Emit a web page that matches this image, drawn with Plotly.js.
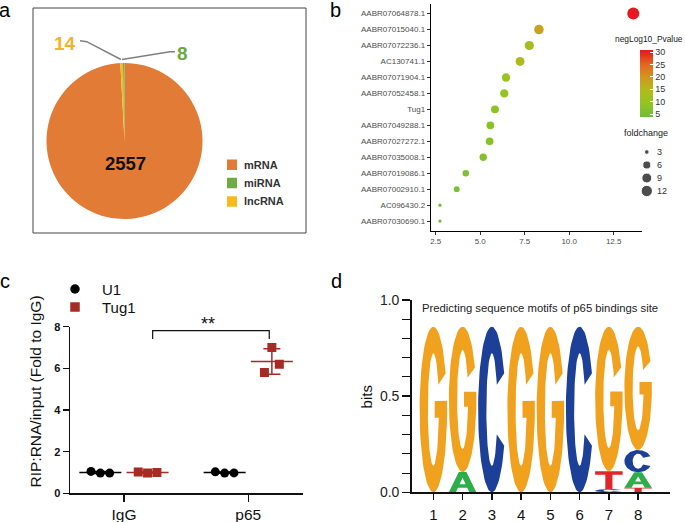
<!DOCTYPE html>
<html><head><meta charset="utf-8">
<script src="https://cdn.plot.ly/plotly-3.0.1.min.js"></script>
<style>html,body{margin:0;padding:0;background:#fff;}#chart{width:685px;height:522px;}</style>
</head><body><div id="chart"></div>
<script>
// ---------- Panel a: RNA types ----------
const rnaTypes = ['mRNA', 'miRNA', 'lncRNA'];
const rnaCounts = [2557, 8, 14];
// ---------- Panel b: bubble plot ----------
const genes = ['AABR07064878.1','AABR07015040.1','AABR07072236.1','AC130741.1','AABR07071904.1','AABR07052458.1','Tug1','AABR07049288.1','AABR07027272.1','AABR07035008.1','AABR07019086.1','AABR07002910.1','AC096430.2','AABR07030690.1'];
const foldChange = [13.60, 8.30, 7.76, 7.24, 6.45, 6.35, 5.83, 5.57, 5.53, 5.17, 4.19, 3.68, 2.74, 2.74];
const negLog10P = [30.9, 18.0, 12.5, 13.5, 10.0, 9.5, 8.5, 7.5, 7.5, 7.0, 6.0, 5.5, 4.2, 3.8];
const xTicksB = [2.5, 5.0, 7.5, 10.0, 12.5];
const pTicks = [5, 10, 15, 20, 25, 30];
const sizeLegendValues = [3, 6, 9, 12];
// ---------- Panel c: RIP ----------
const ripGroups = ['IgG', 'p65'];
const seriesNames = ['U1', 'Tug1'];
const U1_IgG = [1.05, 0.97, 0.97];
const U1_p65 = [1.03, 0.97, 0.98];
const Tug1_IgG = [1.02, 0.97, 1.00];
const Tug1_p65 = [7.0, 6.2, 5.8];
const yTicksC = [0, 2, 4, 6, 8];
const sigLabel = '**';
// ---------- Panel d: sequence logo ----------
const motifPositions = [1, 2, 3, 4, 5, 6, 7, 8];
const bitsA = [0, 0.105, 0, 0, 0, 0, 0, 0.080];
const bitsC = [0, 0, 0.861, 0, 0, 0.861, 0.016, 0.116];
const bitsG = [0.861, 0.756, 0, 0.861, 0.861, 0, 0.751, 0.641];
const bitsT = [0, 0, 0, 0, 0, 0, 0.094, 0.024];
const yTicksD = [0, 0.5, 1.0];

// ---------- helpers / style ----------
const W = 685, H = 522;
const px = x => x / W, py = y => 1 - y / H;
const FONT = 'Liberation Sans, Arial, sans-serif';
const rnaColors = ['#E27B36', '#6FAC46', '#F6BA1C'];
const tugColor = '#A62B24';

const traces = [];
const annotations = [];
const shapes = [];
function ann(text, x, y, font, extra) {
  annotations.push(Object.assign({text: text, xref: 'paper', yref: 'paper', x: px(x), y: py(y),
    showarrow: false, xanchor: 'center', yanchor: 'middle', font: Object.assign({family: FONT, color: '#000'}, font)}, extra || {}));
}

// ===== Panel a =====
const pieOrder = [0, 2, 1];
traces.push({type: 'pie', labels: pieOrder.map(i => rnaTypes[i]), values: pieOrder.map(i => rnaCounts[i]),
  sort: false, direction: 'clockwise', rotation: 0,
  marker: {colors: pieOrder.map(i => rnaColors[i]), line: {width: 0}},
  textinfo: 'none', hoverinfo: 'skip', showlegend: false,
  domain: {x: [px(46.5), px(202.5)], y: [py(219), py(63)]}});
shapes.push({type: 'rect', xref: 'paper', yref: 'paper', x0: px(33), x1: px(306), y0: py(233), y1: py(8), line: {color: '#444', width: 1}});
shapes.push({type: 'path', xref: 'paper', yref: 'paper', path: `M ${px(80)},${py(40.7)} L ${px(86.7)},${py(41.7)} L ${px(121)},${py(59.5)}`, line: {color: '#808080', width: 1.5}});
shapes.push({type: 'path', xref: 'paper', yref: 'paper', path: `M ${px(122)},${py(59.5)} L ${px(170)},${py(51.7)} L ${px(175)},${py(51.7)}`, line: {color: '#808080', width: 1.5}});
ann(String(rnaCounts[2]), 65, 43, {size: 19, weight: 'bold', color: '#F4B323'});
ann(String(rnaCounts[1]), 182.7, 53.5, {size: 19, weight: 'bold', color: '#6AAA3F'});
ann(String(rnaCounts[0]), 126, 163.5, {size: 18.5, weight: 'bold', color: '#111'});
// pie legend
traces.push({type: 'scatter', mode: 'markers', x: rnaTypes.map(() => 0.5), y: rnaTypes.map((_, i) => i),
  xaxis: 'x5', yaxis: 'y5', marker: {symbol: 'square', size: 10.5, color: rnaColors}, hoverinfo: 'skip', showlegend: false});
rnaTypes.forEach((t, i) => ann(t, 242, 164.7 + i * 18.3, {size: 11, weight: 'bold', color: '#333'}, {xanchor: 'left'}));

// ===== Panel b =====
const fcMin = Math.min(...foldChange), fcMax = Math.max(...foldChange);
const dotSize = v => 3.3 + 8.7 * Math.sqrt(Math.max(0, v - fcMin) / (fcMax - fcMin));
const pMin = Math.min(...negLog10P), pMax = Math.max(...negLog10P);
const colorscale = [[0, '#6DBE3A'], [0.22, '#98C41F'], [0.42, '#B6B71C'], [0.6, '#D3961E'], [0.8, '#E2621F'], [1, '#E8161F']];
traces.push({type: 'scatter', mode: 'markers', x: foldChange, y: genes, xaxis: 'x', yaxis: 'y',
  marker: {size: foldChange.map(dotSize), color: negLog10P, cmin: pMin, cmax: pMax, colorscale: colorscale,
    line: {width: 0}, opacity: 1,
    colorbar: {x: px(640), xanchor: 'left', xpad: 0, y: py(83.5), yanchor: 'middle', ypad: 0,
      len: 67 / H, lenmode: 'fraction', thickness: 13, thicknessmode: 'pixels',
      tickvals: pTicks, ticks: 'inside', ticklen: 3, tickcolor: '#fff', tickwidth: 1,
      tickfont: {size: 9, color: '#333', family: FONT}, outlinewidth: 0, title: {text: ''}}},
  hoverinfo: 'skip', showlegend: false});
ann('negLog10_Pvalue', 684, 38.7, {size: 8.4, color: '#222'}, {xanchor: 'right', borderpad: 0});
ann('foldchange', 646, 133, {size: 9, color: '#222'});
traces.push({type: 'scatter', mode: 'markers', x: sizeLegendValues.map(() => 0.5), y: sizeLegendValues.map((_, i) => i),
  xaxis: 'x4', yaxis: 'y4', marker: {size: sizeLegendValues.map(dotSize), color: '#000'}, hoverinfo: 'skip', showlegend: false});
sizeLegendValues.forEach((v, i) => ann(String(v), 655, 152 + i * 13, {size: 9, color: '#333'}, {xanchor: 'left'}));

// ===== Panel c =====
const jitter = [-0.075, 0, 0.075];
const jitterTugP65 = [0, 0.06, -0.06];
const seriesOffset = [-0.19, 0.19];
const mean = a => a.reduce((s, v) => s + v, 0) / a.length;
const sd = a => { const m = mean(a); return Math.sqrt(a.reduce((s, v) => s + (v - m) * (v - m), 0) / (a.length - 1)); };
const cSeries = [
  {name: seriesNames[0], data: [U1_IgG, U1_p65], color: '#000', symbol: 'circle', jit: [jitter, jitter]},
  {name: seriesNames[1], data: [Tug1_IgG, Tug1_p65], color: tugColor, symbol: 'square', jit: [jitter, jitterTugP65]}
];
cSeries.forEach((s, si) => {
  traces.push({type: 'scatter', mode: 'markers', xaxis: 'x2', yaxis: 'y2',
    x: ripGroups.map((_, gi) => gi + seriesOffset[si]), y: s.data.map(mean),
    marker: {symbol: 'line-ew-open', size: 30, color: s.color, line: {width: 1.5, color: s.color}},
    error_y: {type: 'data', array: s.data.map(sd), visible: true, color: s.color, thickness: 1.5, width: 8.5},
    hoverinfo: 'skip', showlegend: false});
  const xs = [], ys = [];
  s.data.forEach((arr, gi) => arr.forEach((v, k) => { xs.push(gi + seriesOffset[si] + s.jit[gi][k]); ys.push(v); }));
  traces.push({type: 'scatter', mode: 'markers', xaxis: 'x2', yaxis: 'y2', x: xs, y: ys, name: s.name,
    marker: {symbol: s.symbol, size: 9, color: s.color}, hoverinfo: 'skip', showlegend: false});
});
traces.push({type: 'scatter', mode: 'markers', xaxis: 'x6', yaxis: 'y6', x: [0.5, 0.5], y: [0, 1],
  marker: {symbol: cSeries.map(s => s.symbol), size: 9.5, color: cSeries.map(s => s.color)}, hoverinfo: 'skip', showlegend: false});
seriesNames.forEach((n, i) => ann(n, 100, 289 + i * 18, {size: 15, color: '#111'}, {xanchor: 'left'}));
shapes.push({type: 'path', xref: 'x2', yref: 'y2', path: 'M 0.231,7.41 L 0.231,7.81 L 1.169,7.81 L 1.169,7.41', line: {color: '#111', width: 1.2}});
ann(sigLabel, 208, 324, {size: 18, color: '#111'});
ann('RIP:RNA/input (Fold to IgG)', 35, 391.5, {size: 15.5, color: '#111'}, {textangle: -90});

// ===== Panel d =====
function arc(cx, cy, rx, ry, a0, a1, n) {
  const p = [];
  for (let i = 0; i <= n; i++) { const a = (a0 + (a1 - a0) * i / n) * Math.PI / 180; p.push([cx + rx * Math.cos(a), cy + ry * Math.sin(a)]); }
  return p;
}
const glyphs = {
  C: [...arc(.5, .5, .5, .5, 26, 334, 70), ...arc(.5, .5, .2, .34, 334, 26, 60)],
  G: [...arc(.5, .5, .5, .5, 26, 366, 70), [0.55, 0.552], [0.55, 0.45], ...arc(.5, .5, .2, .34, 351.5, 26, 60)],
  A: [[0, 0], [0.36, 1], [0.64, 1], [1, 0], [0.74, 0], [0.67, 0.22], [0.33, 0.22], [0.39, 0.40], [0.61, 0.40], [0.5, 0.72], [0.39, 0.40], [0.33, 0.22], [0.26, 0]],
  T: [[0, 1], [1, 1], [1, 0.8], [0.63, 0.8], [0.63, 0], [0.37, 0], [0.37, 0.8], [0, 0.8]]
};
const nts = [{k: 'A', bits: bitsA, color: '#2EAE4B'}, {k: 'C', bits: bitsC, color: '#1C3F97'},
             {k: 'G', bits: bitsG, color: '#F0A21F'}, {k: 'T', bits: bitsT, color: '#E1262B'}];
const LX = {}, LY = {};
nts.forEach(n => { LX[n.k] = []; LY[n.k] = []; });
motifPositions.forEach((p, i) => {
  const stack = nts.map(n => ({k: n.k, h: n.bits[i]})).filter(s => s.h > 0).sort((a, b) => a.h - b.h);
  let base = 0;
  stack.forEach(s => {
    glyphs[s.k].forEach(([u, v]) => { LX[s.k].push(p - 0.47 + 0.94 * u); LY[s.k].push(base + s.h * v); });
    LX[s.k].push(null); LY[s.k].push(null);
    base += s.h;
  });
});
nts.forEach(n => traces.push({type: 'scatter', mode: 'lines', xaxis: 'x3', yaxis: 'y3', x: LX[n.k], y: LY[n.k],
  fill: 'toself', fillcolor: n.color, line: {width: 0, color: n.color}, hoverinfo: 'skip', showlegend: false}));
ann('Predicting sequence motifs of p65 bindings site', 540, 307.7, {size: 11.3, color: '#222'});
ann('bits', 366.7, 396.7, {size: 15, color: '#111'}, {textangle: -90});

// panel labels
ann('a', 5, 9.7, {size: 20});
ann('b', 335, 9.7, {size: 20});
ann('c', 5, 281.3, {size: 20});
ann('d', 336, 281.3, {size: 20});

const hidden = (dom, rng, anchor) => ({domain: dom, range: rng, visible: false, fixedrange: true, anchor: anchor});
const layout = {
  width: W, height: H, margin: {l: 0, r: 0, t: 0, b: 0}, paper_bgcolor: '#fff', plot_bgcolor: 'rgba(0,0,0,0)',
  font: {family: FONT}, showlegend: false,
  xaxis: {domain: [px(430.7), px(642)], range: [2.219, 14.09], anchor: 'y', tickvals: xTicksB, tickformat: '.1f',
    showline: true, linecolor: '#000', linewidth: 1, ticks: 'outside', ticklen: 3, tickcolor: '#333',
    tickfont: {size: 8, color: '#4D4D4D'}, showgrid: false, zeroline: false},
  yaxis: {domain: [py(230.7), py(4)], type: 'category', categoryorder: 'array', categoryarray: genes, range: [13.6, -0.6],
    anchor: 'x', showline: true, linecolor: '#000', linewidth: 1, ticks: 'outside', ticklen: 3, tickcolor: '#333',
    tickfont: {size: 8, color: '#4D4D4D'}, showgrid: false, zeroline: false},
  xaxis2: {domain: [px(70), px(302.7)], range: [-0.434, 1.438], anchor: 'y2', tickvals: [0, 1], ticktext: ripGroups,
    showline: true, linecolor: '#111', linewidth: 1.5, ticks: 'outside', ticklen: 7, tickwidth: 1.5, tickcolor: '#111',
    tickfont: {size: 15.5, color: '#111'}, showgrid: false, zeroline: false},
  yaxis2: {domain: [py(493.3), py(326.7)], range: [0, 8], anchor: 'x2', tickvals: yTicksC,
    showline: true, linecolor: '#111', linewidth: 1.5, ticks: 'outside', ticklen: 6, tickwidth: 1.5, tickcolor: '#111',
    tickfont: {size: 11, color: '#111', weight: 'bold'}, showgrid: false, zeroline: false},
  xaxis3: {domain: [px(411.7), px(670)], range: [0.26, 9.09], anchor: 'y3', tickvals: motifPositions,
    showline: true, linecolor: '#111', linewidth: 1.5, ticks: 'outside', ticklen: 6, tickwidth: 1.5, tickcolor: '#111',
    tickfont: {size: 15, color: '#111'}, showgrid: false, zeroline: false, ticklabelstandoff: 2},
  yaxis3: {domain: [py(492.3), py(300)], range: [0, 1], anchor: 'x3', tickvals: yTicksD, tickformat: '.1f',
    showline: true, linecolor: '#111', linewidth: 1.5, ticks: 'outside', ticklen: 8, tickwidth: 1.5, tickcolor: '#111',
    minor: {dtick: 0.1, tick0: 0, ticks: 'outside', ticklen: 8, tickwidth: 1, tickcolor: '#111', showgrid: false},
    tickfont: {size: 14, color: '#222'}, showgrid: false, zeroline: false},
  xaxis4: hidden([px(641), px(652.6)], [0, 1], 'y4'),
  yaxis4: hidden([py(197.5), py(145.5)], [3.5, -0.5], 'x4'),
  xaxis5: hidden([px(227), px(237)], [0, 1], 'y5'),
  yaxis5: hidden([py(210.6), py(155.5)], [2.5, -0.5], 'x5'),
  xaxis6: hidden([px(70), px(80)], [0, 1], 'y6'),
  yaxis6: hidden([py(316), py(280)], [1.5, -0.5], 'x6'),
  annotations: annotations, shapes: shapes
};
Plotly.newPlot('chart', traces, layout, {displayModeBar: false, staticPlot: true});
</script></body></html>
